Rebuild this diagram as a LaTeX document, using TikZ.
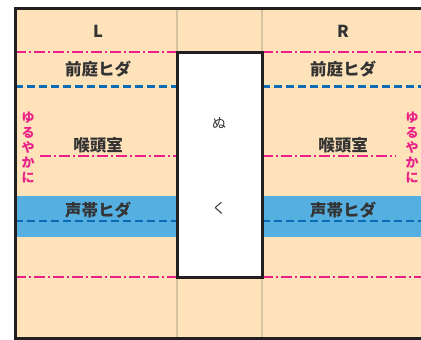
\documentclass[tikz,border=0pt]{standalone}
\usepackage{fontspec}
\setmainfont{Noto Sans CJK JP}
\usetikzlibrary{positioning}
\definecolor{lxbeige}{RGB}{253,226,186}
\definecolor{lxblue}{RGB}{86,175,225}
\definecolor{lxdash}{RGB}{10,106,180}
\definecolor{lxpink}{RGB}{234,32,136}
\definecolor{lxtan}{RGB}{214,193,160}
\definecolor{lxink}{RGB}{35,31,32}
\definecolor{lxtext}{RGB}{51,51,51}
\tikzset{
  pinkline/.style={lxpink, line width=2.6pt, dash pattern=on 11pt off 3pt on 2pt off 3pt},
  blueline/.style={lxdash, line width=2.6pt, dash pattern=on 8pt off 4pt},
  label/.style={lxtext, font=\fontsize{16.5}{16.5}\selectfont\bfseries, inner sep=0pt},
  slowtext/.style={lxpink, font=\fontsize{13}{15}\selectfont\bfseries, align=center, inner sep=0pt}
}
\begin{document}
\begin{tikzpicture}[x=1pt,y=-1pt]
\useasboundingbox (0,0) rectangle (421,340);
\fill[white] (0,0) rectangle (421,340);
\fill[lxbeige] (15,8) rectangle (421,338);
% vocal fold band
\fill[lxblue] (15,196) rectangle (177,237);
\fill[lxblue] (262,196) rectangle (421,237);
% column guides
\draw[lxtan, line width=1.2pt] (177,8) -- (177,338);
\draw[lxtan, line width=1.2pt] (262,8) -- (262,338);
% dash-dot levels
\draw[pinkline] (15,52) -- (177,52);
\draw[pinkline] (262,52) -- (421,52);
\draw[pinkline] (40,156) -- (177,156);
\draw[pinkline] (262,156) -- (396,156);
\draw[pinkline] (15,277) -- (177,277);
\draw[pinkline] (262,277) -- (421,277);
% dashed levels
\draw[blueline] (15,86.5) -- (177,86.5);
\draw[blueline] (262,86.5) -- (421,86.5);
\draw[blueline] (15,221) -- (177,221);
\draw[blueline] (262,221) -- (421,221);
% middle box
\draw[lxink, line width=3pt, fill=white] (177,52) rectangle (262,277);
% frame
\draw[lxink, line width=3pt] (421,8) -- (15,8) -- (15,338) -- (421,338);
% left side
\node[label] (lhead) at (98,31) {L};
\node[label] (lvest) at (98,69) {前庭ヒダ};
\node[label] (lvent) at (98,145) {喉頭室};
\node[label] (lfold) at (98,210) {声帯ヒダ};
\node[slowtext] (lslow) at (28,148) {ゆ\\る\\や\\か\\に};
% right side
\node[label] (rhead) at (343,31) {R};
\node[label] (rvest) at (343,69) {前庭ヒダ};
\node[label] (rvent) at (343,145) {喉頭室};
\node[label] (rfold) at (343,210) {声帯ヒダ};
\node[slowtext] (rslow) at (412,148) {ゆ\\る\\や\\か\\に};
% box text
\node[lxtext, font=\fontsize{14}{14}\selectfont, inner sep=0pt] (nu) at (219,123) {ぬ};
\node[lxtext, font=\fontsize{14}{14}\selectfont, inner sep=0pt] (ku) at (219,208) {く};
\end{tikzpicture}
\end{document}
